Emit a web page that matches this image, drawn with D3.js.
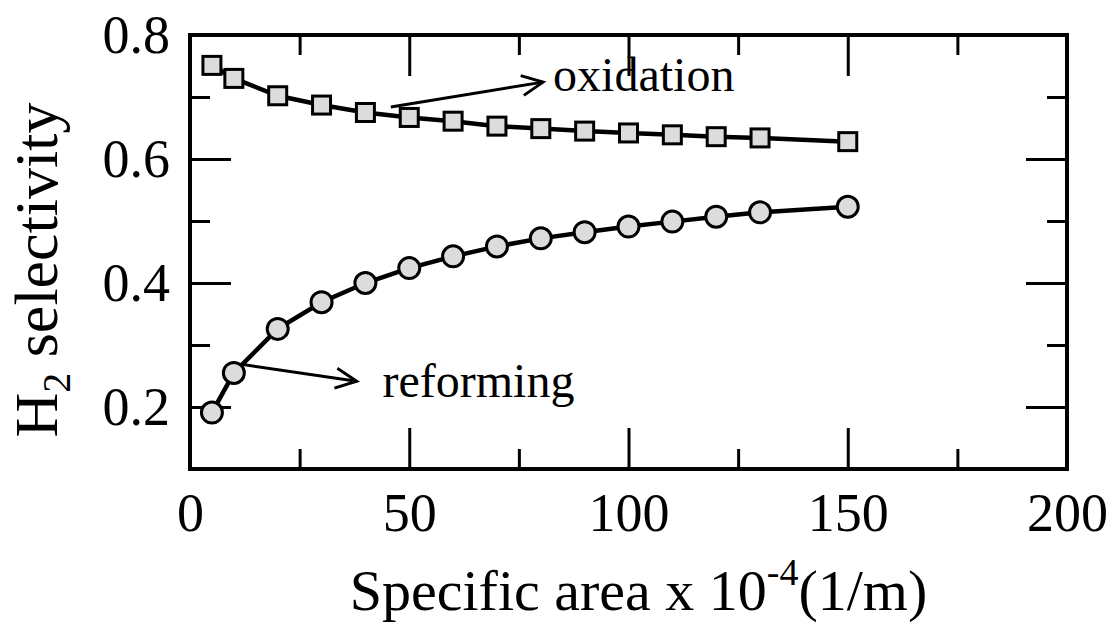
<!DOCTYPE html>
<html>
<head>
<meta charset="utf-8">
<script src="https://cdn.jsdelivr.net/npm/d3@7"></script>
<style>
  body { margin: 0; background: #fff; }
  text { font-family: "Liberation Serif", "Times New Roman", serif; fill: #000; }
</style>
</head>
<body>
<div id="chart"></div>
<script>
// data
var area = [5, 10, 20, 30, 40, 50, 60, 70, 80, 90, 100, 110, 120, 130, 150];
var oxidation = [0.751, 0.730, 0.702, 0.687, 0.675, 0.667, 0.661, 0.653, 0.649, 0.645, 0.642, 0.639, 0.636, 0.634, 0.628];
var reforming = [0.191, 0.255, 0.326, 0.369, 0.400, 0.424, 0.443, 0.459, 0.472, 0.482, 0.491, 0.499, 0.507, 0.514, 0.523];
var xMajor = [0, 50, 100, 150, 200];
var xMinor = [25, 75, 125, 175];
var yMajor = [0.2, 0.4, 0.6, 0.8];
var yMinor = [0.1, 0.3, 0.5, 0.7];

var svgWidth = 1117;
var svgHeight = 628;
var margin = { top: 35, bottom: 159, left: 190, right: 50 };
var width = svgWidth - margin.left - margin.right;
var height = svgHeight - margin.top - margin.bottom;

var svg = d3.select("#chart")
  .append("svg")
  .attr("width", svgWidth)
  .attr("height", svgHeight);

var chartGroup = svg.append("g")
  .attr("transform", `translate(${margin.left}, ${margin.top})`);

var xScale = d3.scaleLinear().domain([0, 200]).range([0, width]);
var yScale = d3.scaleLinear().domain([0.1, 0.8]).range([height, 0]);

// arrow head
svg.append("defs").append("marker")
  .attr("id", "head")
  .attr("markerUnits", "userSpaceOnUse")
  .attr("markerWidth", 30).attr("markerHeight", 30)
  .attr("refX", 22).attr("refY", 11)
  .attr("orient", "auto")
  .append("path")
  .attr("d", "M1,1 L22,11 L1,21")
  .attr("fill", "none")
  .attr("stroke", "#000")
  .attr("stroke-width", 3);

// ticks, all four sides pointing inward
function styleAxis(g) {
  g.select(".domain").remove();
  g.selectAll(".tick line").attr("stroke", "#000").attr("stroke-width", 3);
  g.selectAll(".tick text").attr("font-size", 54).attr("fill", "#000");
}

chartGroup.append("g")
  .attr("transform", `translate(0, ${height})`)
  .call(d3.axisBottom(xScale).tickValues(xMajor).tickSize(-41).tickPadding(24).tickFormat(d3.format("d")))
  .call(styleAxis);
chartGroup.append("g")
  .attr("transform", `translate(0, ${height})`)
  .call(d3.axisBottom(xScale).tickValues(xMinor).tickSize(-20).tickFormat(""))
  .call(styleAxis);
chartGroup.append("g")
  .call(d3.axisTop(xScale).tickValues(xMajor).tickSize(-41).tickFormat(""))
  .call(styleAxis);
chartGroup.append("g")
  .call(d3.axisTop(xScale).tickValues(xMinor).tickSize(-20).tickFormat(""))
  .call(styleAxis);

chartGroup.append("g")
  .call(d3.axisLeft(yScale).tickValues(yMajor).tickSize(-41).tickPadding(20).tickFormat(d3.format(".1f")))
  .call(styleAxis);
chartGroup.append("g")
  .call(d3.axisLeft(yScale).tickValues(yMinor).tickSize(-20).tickFormat(""))
  .call(styleAxis);
chartGroup.append("g")
  .attr("transform", `translate(${width}, 0)`)
  .call(d3.axisRight(yScale).tickValues(yMajor).tickSize(-41).tickFormat(""))
  .call(styleAxis);
chartGroup.append("g")
  .attr("transform", `translate(${width}, 0)`)
  .call(d3.axisRight(yScale).tickValues(yMinor).tickSize(-20).tickFormat(""))
  .call(styleAxis);

// frame
chartGroup.append("rect")
  .attr("width", width)
  .attr("height", height)
  .attr("fill", "none")
  .attr("stroke", "#000")
  .attr("stroke-width", 4);

// lines
var line = d3.line()
  .x(d => xScale(d[0]))
  .y(d => yScale(d[1]));

var oxData = area.map((a, i) => [a, oxidation[i]]);
var refData = area.map((a, i) => [a, reforming[i]]);

[oxData, refData].forEach(function (data) {
  chartGroup.append("path")
    .datum(data)
    .attr("d", line)
    .attr("fill", "none")
    .attr("stroke", "#000")
    .attr("stroke-width", 4.5);
});

// markers
chartGroup.selectAll(".sq")
  .data(oxData)
  .enter().append("rect")
  .attr("class", "sq")
  .attr("x", d => xScale(d[0]) - 9)
  .attr("y", d => yScale(d[1]) - 9)
  .attr("width", 18)
  .attr("height", 18)
  .attr("fill", "#dcdcdc")
  .attr("stroke", "#000")
  .attr("stroke-width", 3);

chartGroup.selectAll(".ci")
  .data(refData)
  .enter().append("circle")
  .attr("class", "ci")
  .attr("cx", d => xScale(d[0]))
  .attr("cy", d => yScale(d[1]))
  .attr("r", 10.5)
  .attr("fill", "#dcdcdc")
  .attr("stroke", "#000")
  .attr("stroke-width", 3);

// annotations
chartGroup.append("line")
  .attr("x1", xScale(45.8)).attr("y1", yScale(0.684))
  .attr("x2", xScale(80.5)).attr("y2", yScale(0.724))
  .attr("stroke", "#000").attr("stroke-width", 3)
  .attr("marker-end", "url(#head)");
chartGroup.append("text")
  .attr("x", xScale(82.8)).attr("y", yScale(0.710))
  .attr("font-size", 48)
  .text("oxidation");

chartGroup.append("line")
  .attr("x1", xScale(12.1)).attr("y1", yScale(0.2685))
  .attr("x2", xScale(38.0)).attr("y2", yScale(0.2415))
  .attr("stroke", "#000").attr("stroke-width", 3)
  .attr("marker-end", "url(#head)");
chartGroup.append("text")
  .attr("x", xScale(43.9)).attr("y", yScale(0.2155))
  .attr("font-size", 48)
  .text("reforming");

// axis labels
var xLabel = chartGroup.append("text")
  .attr("x", width / 2 + 10)
  .attr("y", height + 141)
  .attr("text-anchor", "middle")
  .attr("font-size", 58);
xLabel.append("tspan").text("Specific area x 10");
xLabel.append("tspan").attr("font-size", 38).attr("dy", -25).text("-4");
xLabel.append("tspan").attr("dy", 25).text("(1/m)");

var yLabel = svg.append("text")
  .attr("transform", `translate(57, ${margin.top + height / 2 + 18}) rotate(-90)`)
  .attr("text-anchor", "middle")
  .attr("font-size", 62);
yLabel.append("tspan").text("H");
yLabel.append("tspan").attr("font-size", 40).attr("dy", 13).text("2");
yLabel.append("tspan").attr("dy", -13).text(" selectivity");
</script>
</body>
</html>
